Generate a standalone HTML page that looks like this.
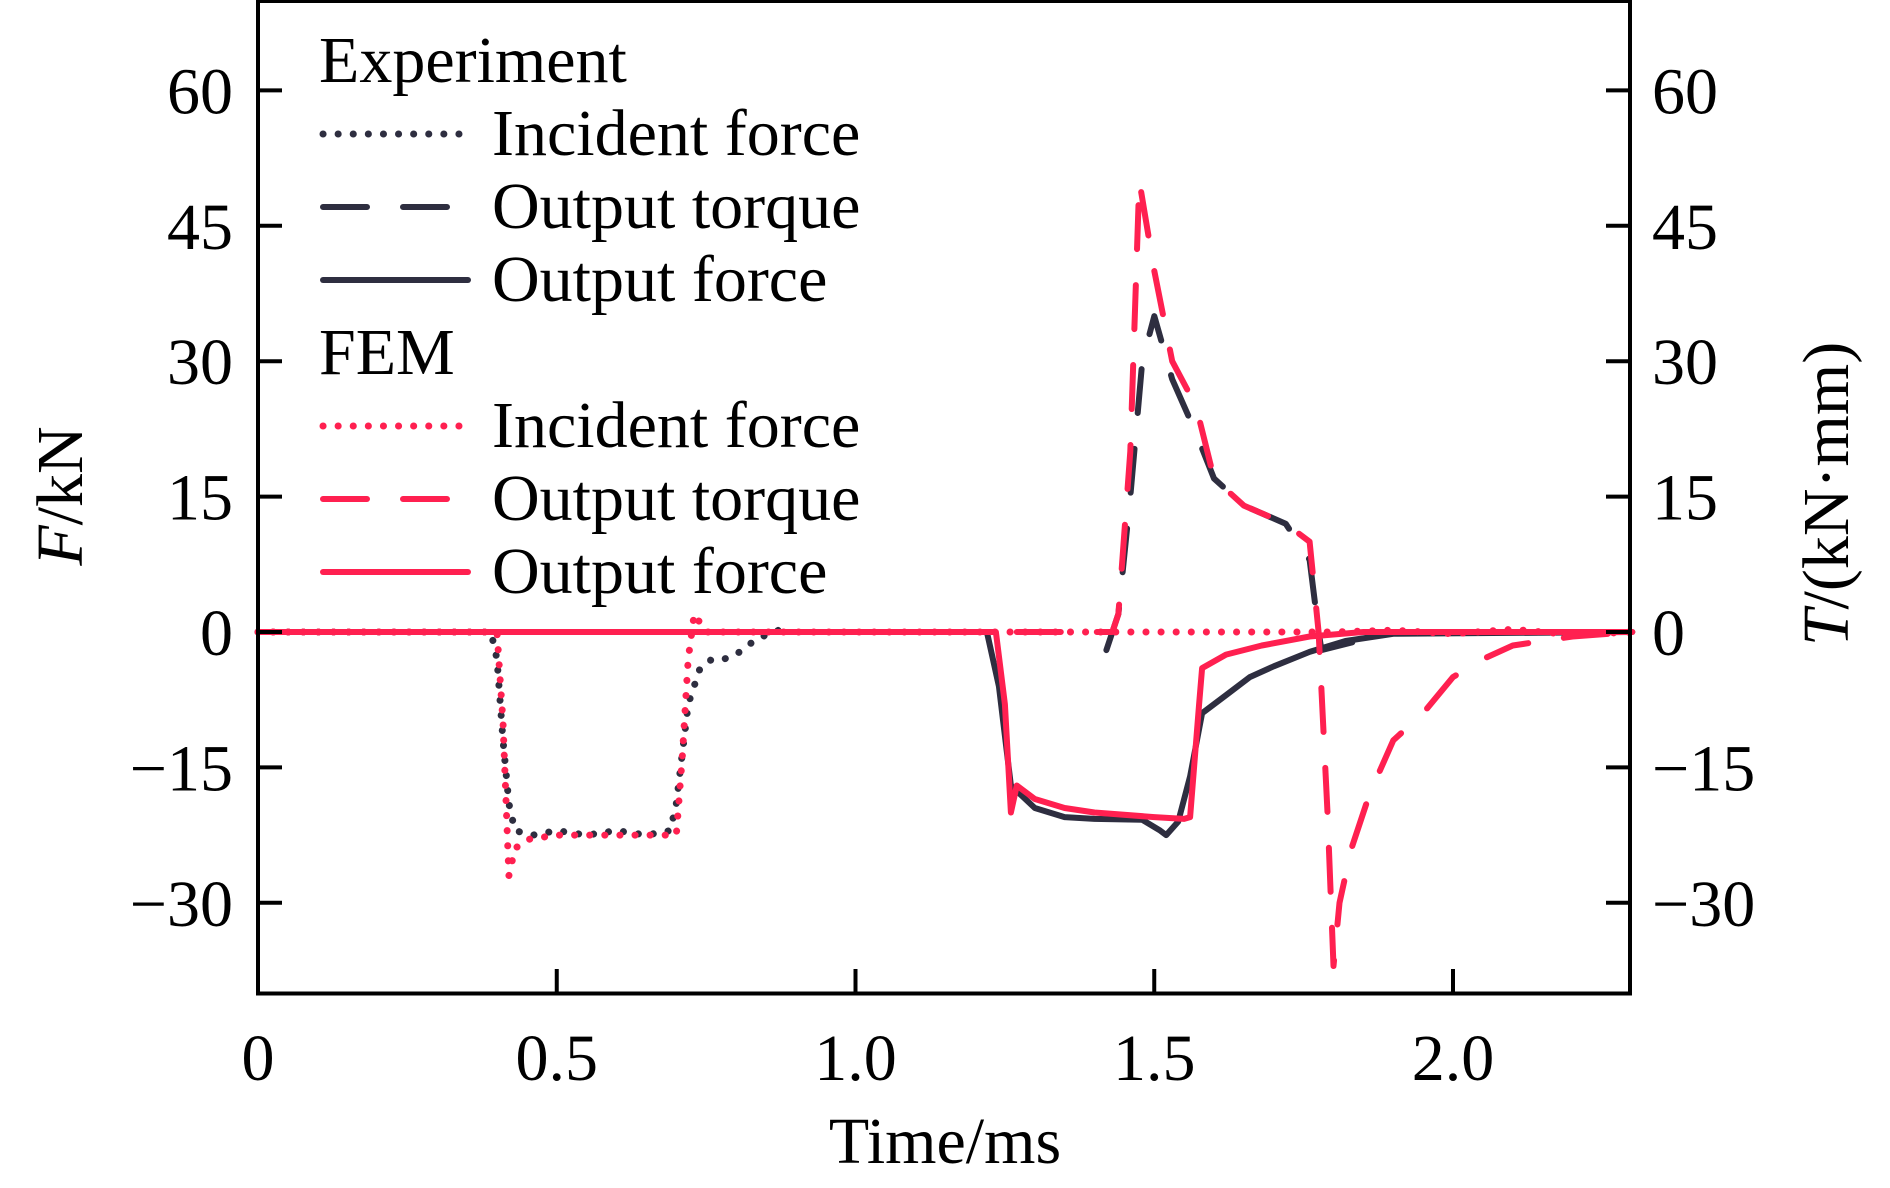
<!DOCTYPE html>
<html><head><meta charset="utf-8"><style>
body{margin:0;background:#fff}
svg text{font-family:"Liberation Serif",serif;fill:#000}
</style></head><body>
<svg id="chart" width="1890" height="1183" viewBox="0 0 1890 1183" xmlns="http://www.w3.org/2000/svg">
<g id="series"></g>
<rect x="258" y="1" width="1372" height="992.5" fill="none" stroke="#000" stroke-width="4"/>
<g id="axes"></g>
<text x="945" y="1163" font-size="66" text-anchor="middle">Time/ms</text>
<text transform="translate(82,496) rotate(-90)" font-size="66" text-anchor="middle"><tspan font-style="italic">F</tspan>/kN</text>
<text transform="translate(1848,494) rotate(-90)" font-size="66" text-anchor="middle"><tspan font-style="italic">T</tspan>/(kN·mm)</text>
<g id="legend"></g>
</svg>
<script>
const xTicks=[0,0.5,1.0,1.5,2.0];
const xTickLabels=["0","0.5","1.0","1.5","2.0"];
const yTicks=[60,45,30,15,0,-15,-30];
const yTickLabels=["60","45","30","15","0","\u221215","\u221230"];
const expIncT=[0,0.39,0.40,0.41,0.42,0.43,0.46,0.5,0.55,0.6,0.65,0.69,0.70,0.72,0.74,0.76,0.78,0.80,0.83,0.86,0.89];
const expIncV=[0,0,-3,-12,-19,-22,-22.5,-22,-22.5,-22,-22.5,-22,-19,-8,-4,-3,-3,-2.5,-1,0,0.5];
const femIncT=[0,0.40,0.41,0.42,0.43,0.45,0.5,0.55,0.6,0.65,0.70,0.71,0.72,0.73,0.75,0.8,0.9,1.0,1.2,1.5,1.8,1.9,2.0,2.1,2.2,2.3];
const femIncV=[0,0,-10,-27,-24,-23,-22.5,-22.5,-22.5,-22.5,-22.5,-14,-3,2,0,0,0,0,0,0,0,0.2,-0.2,0.3,-0.3,0];
const expForceT=[1.0,1.22,1.24,1.26,1.3,1.35,1.4,1.48,1.51,1.52,1.54,1.56,1.58,1.62,1.66,1.7,1.76,1.82,1.9,2.3];
const expForceV=[0,0,-6,-17,-19.5,-20.5,-20.7,-20.8,-22,-22.5,-21,-16,-9,-7,-5,-3.8,-2.2,-1,-0.2,0];
const femForceT=[0,1.235,1.25,1.26,1.27,1.3,1.35,1.4,1.5,1.55,1.56,1.575,1.58,1.62,1.68,1.76,1.85,2.3];
const femForceV=[0,0,-8,-20,-17,-18.5,-19.5,-20,-20.5,-20.7,-20.5,-8,-4,-2.5,-1.5,-0.5,0,0];
const expTorqueT=[1.42,1.44,1.46,1.48,1.50,1.53,1.57,1.60,1.65,1.72,1.76,1.775,1.78,1.84,1.9];
const expTorqueV=[-2,2,15,30,35,28,22,17,14,12,8,0,-2,-1,0];
const femTorqueT=[1.27,1.43,1.44,1.46,1.475,1.50,1.53,1.57,1.60,1.65,1.72,1.76,1.775,1.79,1.80,1.81,1.83,1.86,1.9,1.95,2.0,2.05,2.1,2.2,2.3];
const femTorqueV=[0,0,2,20,50,40,30,25,17,14,12,10,0,-20,-37,-30,-24,-18,-12,-9,-5,-3,-1.5,-0.5,0];

const X0=258,PXMS=597.5,Y0=632,PXU=9.027;
const xs=t=>X0+t*PXMS, ys=v=>Y0-v*PXU;
const NS="http://www.w3.org/2000/svg";
const DARK="#2e2e40",RED="#ff2050";
const DOT="0.1 15",DASH="44 36";
function mk(tag,attrs,parent){const e=document.createElementNS(NS,tag);for(const k in attrs)e.setAttribute(k,attrs[k]);parent.appendChild(e);return e;}
const series=document.getElementById('series');
function line(T,V,color,dash,name){
  const d=T.map((t,i)=>(i?'L':'M')+xs(t).toFixed(1)+','+ys(V[i]).toFixed(1)).join(' ');
  const p=mk('path',{d:d,fill:'none',stroke:color,'stroke-width':dash===DOT?7:6,'stroke-linecap':'round','stroke-linejoin':'round'},series);
  if(dash)p.setAttribute('stroke-dasharray',dash);
  
  
}
line(expIncT,expIncV,DARK,DOT,'exp-incident-force-line');
line(expForceT,expForceV,DARK,null,'exp-output-force-line');
line(expTorqueT,expTorqueV,DARK,DASH,'exp-output-torque-line');
line(femIncT,femIncV,RED,DOT,'fem-incident-force-line');
line(femForceT,femForceV,RED,null,'fem-output-force-line');
line(femTorqueT,femTorqueV,RED,DASH,'fem-output-torque-line');

const axes=document.getElementById('axes');
xTicks.forEach((t,i)=>{
  if(t>0){const tk=mk('line',{x1:xs(t),x2:xs(t),y1:993,y2:969,stroke:'#000','stroke-width':4},axes);
  
  }
  const tx=mk('text',{x:xs(t),y:1080,'font-size':66,'text-anchor':'middle'},axes);tx.textContent=xTickLabels[i];
  
  
});
yTicks.forEach((v,i)=>{
  const y=ys(v);
  const a=mk('line',{x1:258,x2:282,y1:y,y2:y,stroke:'#000','stroke-width':4},axes);
  
  
  const b=mk('line',{x1:1606,x2:1630,y1:y,y2:y,stroke:'#000','stroke-width':4},axes);
  
  
  const l=mk('text',{x:233,y:y+23,'font-size':66,'text-anchor':'end'},axes);l.textContent=yTickLabels[i];
  
  
  const r=mk('text',{x:1652,y:y+23,'font-size':66},axes);r.textContent=yTickLabels[i];
  
  
});

const legend=document.getElementById('legend');
const legRows=[["Experiment",null,null],["Incident force",DARK,DOT],["Output torque",DARK,DASH],["Output force",DARK,""],["FEM",null,null],["Incident force",RED,DOT],["Output torque",RED,DASH],["Output force",RED,""]];
legRows.forEach((r,i)=>{
  const yb=82+i*73;
  if(r[1]===null){
    const t=mk('text',{x:319,y:yb,'font-size':66},legend);t.textContent=r[0];
    
    
  } else {
    const ln=mk('line',{x1:323,x2:468,y1:yb-21,y2:yb-21,stroke:r[1],'stroke-width':r[2]===DOT?7:6,'stroke-linecap':'round'},legend);
    if(r[2])ln.setAttribute('stroke-dasharray',r[2]);
    
    
    const t=mk('text',{x:492,y:yb,'font-size':66},legend);t.textContent=r[0];
    
    
  }
});
</script>
</body></html>
